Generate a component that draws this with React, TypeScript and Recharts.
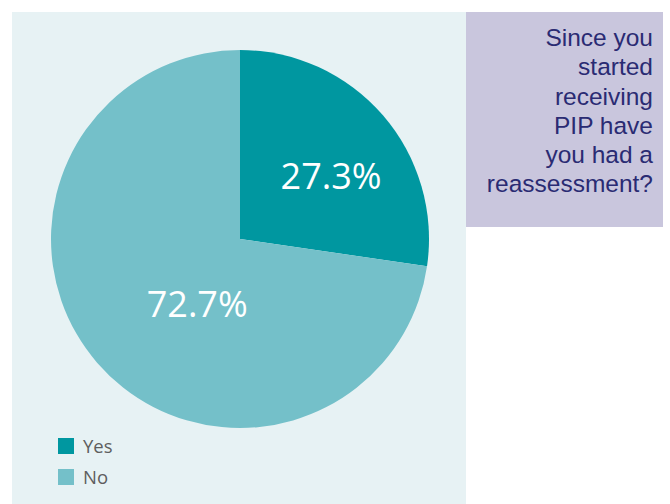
import { Legend, Pie, PieChart, Cell } from "recharts"

const CATEGORIES = ["Yes", "No"]
const VALUES = [27.3, 72.7]
const COLORS = ["#0097a0", "#74c0c9"]
const TITLE_LINES = ["Since you", "started", "receiving", "PIP have", "you had a", "reassessment?"]

// label placement relative to pie centre: fraction of radius, angle in degrees (ccw from east)
const LABEL_POS: Record<string, { r: number; a: number }> = {
  Yes: { r: 0.586, a: 34.7 },
  No: { r: 0.41, a: 236.5 },
}

const data = CATEGORIES.map((name, i) => ({ name, value: VALUES[i], color: COLORS[i] }))

const RAD = Math.PI / 180

function renderLabel(props: any) {
  const { cx, cy, outerRadius, name, value } = props
  const pos = LABEL_POS[name]
  const x = cx + outerRadius * pos.r * Math.cos(pos.a * RAD)
  const y = cy - outerRadius * pos.r * Math.sin(pos.a * RAD)
  return (
    <text x={x} y={y} fill="#ffffff" textAnchor="middle" dominantBaseline="central" fontSize={36} fontFamily="'Open Sans', sans-serif">
      {`${value.toFixed(1)}%`}
    </text>
  )
}

function LegendContent() {
  return (
    <div style={{ fontFamily: "'Open Sans', sans-serif" }}>
      {data.map((d) => (
        <div key={d.name} style={{ display: "flex", alignItems: "center", height: 31 }}>
          <span style={{ width: 16, height: 16, background: d.color, display: "inline-block", marginRight: 9 }} />
          <span style={{ fontSize: 18.5, color: "#5e5e5e" }}>{d.name}</span>
        </div>
      ))}
    </div>
  )
}

export default function App() {
  return (
    <div style={{ position: "absolute", left: 0, top: 0, width: 670, height: 504, background: "#ffffff", overflow: "hidden" }}>
      <div style={{ position: "absolute", left: 12, top: 12, width: 454, height: 492, background: "#e7f2f4" }}>
        <PieChart width={454} height={492} margin={{ top: 0, right: 0, bottom: 0, left: 0 }}>
          <Pie
            data={data}
            dataKey="value"
            nameKey="name"
            cx={228}
            cy={227}
            outerRadius={189}
            startAngle={90}
            endAngle={-270}
            stroke="none"
            label={renderLabel}
            labelLine={false}
            isAnimationActive={false}
          >
            {data.map((d) => (
              <Cell key={d.name} fill={d.color} />
            ))}
          </Pie>
          <Legend content={<LegendContent />} wrapperStyle={{ position: "absolute", left: 46, top: 418, width: 120 }} />
        </PieChart>
      </div>
      <div
        style={{
          position: "absolute",
          left: 466,
          top: 12,
          width: 187,
          height: 204,
          paddingRight: 10,
          paddingTop: 11,
          boxSizing: "content-box",
          background: "#c9c6dd",
          color: "#2a2b73",
          textAlign: "right",
          fontFamily: "'Liberation Sans', Arial, sans-serif",
          fontSize: 24.5,
          lineHeight: "29.3px",
        }}
      >
        {TITLE_LINES.map((l) => (
          <div key={l}>{l}</div>
        ))}
      </div>
    </div>
  )
}
